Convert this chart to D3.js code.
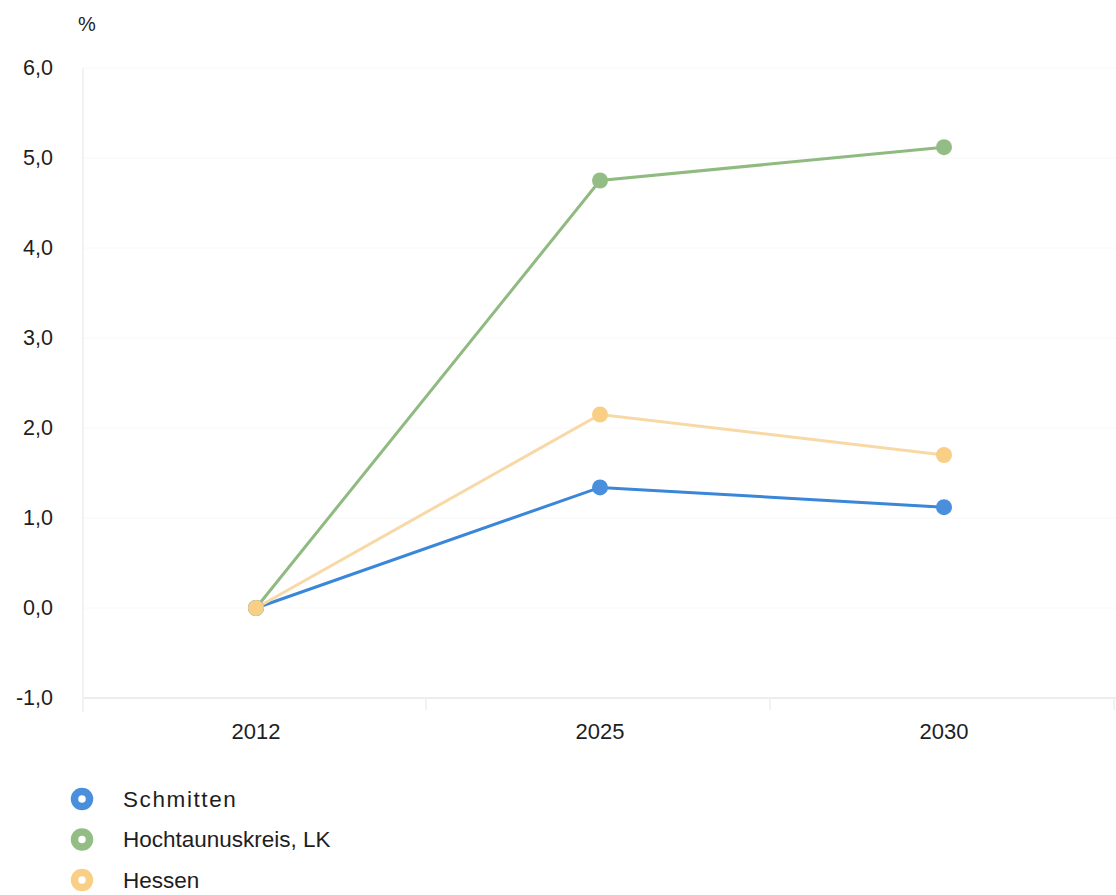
<!DOCTYPE html>
<html>
<head>
<meta charset="utf-8">
<script src="https://cdn.jsdelivr.net/npm/d3@7"></script>
<style>
  html, body { margin: 0; padding: 0; background: #fff; }
  svg { display: block; font-family: "Liberation Sans", Arial, sans-serif; }
</style>
</head>
<body>
<svg id="chart" width="1116" height="895"></svg>
<script>
// Population change relative to 2012, in percent
const years = ["2012", "2025", "2030"];
const schmitten = [0.0, 1.34, 1.12];
const hochtaunus = [0.0, 4.75, 5.12];
const hessen = [0.0, 2.15, 1.70];
const seriesNames = ["Schmitten", "Hochtaunuskreis, LK", "Hessen"];
const yTicks = [-1, 0, 1, 2, 3, 4, 5, 6];

const series = [
  { name: seriesNames[0], values: schmitten, line: "#3a86d8", dot: "#4a8fdc" },
  { name: seriesNames[1], values: hochtaunus, line: "#8fba80", dot: "#93bd85" },
  { name: seriesNames[2], values: hessen, line: "#f8d8a6", dot: "#f9cf86" }
];

const svg = d3.select("#chart");
const plotLeft = 84, plotRight = 1116, plotTop = 68, plotBottom = 698;
const font = "Liberation Sans, Arial, sans-serif";

const x = d3.scaleBand().domain(years).range([plotLeft, plotRight]);
const y = d3.scaleLinear().domain([-1, 6]).range([plotBottom, plotTop]);
const fmt = v => d3.format(".1f")(v).replace(".", ",").replace("\u2212", "-");

// faint horizontal grid
svg.append("g")
  .selectAll("line")
  .data(yTicks)
  .join("line")
  .attr("x1", plotLeft).attr("x2", plotRight)
  .attr("y1", d => y(d)).attr("y2", d => y(d))
  .attr("stroke", d => d === -1 ? "#ececec" : "#f8f8f8")
  .attr("stroke-width", d => d === -1 ? 2 : 1);

// vertical axis line
svg.append("line")
  .attr("x1", plotLeft - 1).attr("x2", plotLeft - 1)
  .attr("y1", plotTop).attr("y2", plotBottom + 14)
  .attr("stroke", "#f2f2f2").attr("stroke-width", 2);

// y axis labels
const yAxis = d3.axisLeft(y).tickValues(yTicks).tickFormat(fmt).tickSize(0).tickPadding(0);
const gy = svg.append("g").attr("transform", `translate(${plotLeft - 31},0)`).call(yAxis);
gy.select(".domain").remove();
gy.selectAll("text")
  .attr("font-size", 21.5)
  .attr("fill", "#1e1e1e")
  .attr("font-family", font);

svg.append("text")
  .attr("x", 78).attr("y", 31)
  .attr("font-size", 20).attr("fill", "#1e1e1e")
  .attr("font-family", font)
  .text("%");

// x axis labels and category ticks
const xAxis = d3.axisBottom(x).tickSize(0).tickPadding(0);
const gx = svg.append("g").attr("transform", `translate(0,${plotBottom + 25})`).call(xAxis);
gx.select(".domain").remove();
gx.selectAll("text")
  .attr("font-size", 22)
  .attr("fill", "#1e1e1e")
  .attr("dy", "0.71em")
  .attr("font-family", font);

svg.append("g")
  .selectAll("line")
  .data(years)
  .join("line")
  .attr("x1", (d, i) => plotLeft + x.step() * (i + 1) - 2)
  .attr("x2", (d, i) => plotLeft + x.step() * (i + 1) - 2)
  .attr("y1", plotBottom).attr("y2", plotBottom + 12)
  .attr("stroke", "#f2f2f2").attr("stroke-width", 2);

// lines and markers, drawn so the series at 2012 overlap like the original
const line = d3.line()
  .x((d, i) => x(years[i]) + x.bandwidth() / 2)
  .y(d => y(d));

const drawOrder = [series[1], series[0], series[2]];
drawOrder.forEach(s => {
  svg.append("path")
    .datum(s.values)
    .attr("fill", "none")
    .attr("stroke", s.line)
    .attr("stroke-width", 3)
    .attr("d", line);
});
drawOrder.forEach(s => {
  svg.append("g")
    .selectAll("circle")
    .data(s.values)
    .join("circle")
    .attr("cx", (d, i) => x(years[i]) + x.bandwidth() / 2)
    .attr("cy", d => y(d))
    .attr("r", 8)
    .attr("fill", s.dot);
});

// legend
const legend = svg.append("g");
series.forEach((s, i) => {
  const ly = 799 + i * 40.5;
  legend.append("circle")
    .attr("cx", 82).attr("cy", ly).attr("r", 7.5)
    .attr("fill", "none").attr("stroke", s.dot).attr("stroke-width", 7.5);
  legend.append("text")
    .attr("x", 123).attr("y", ly)
    .attr("dy", "0.35em")
    .attr("font-size", 22.5).attr("fill", "#1e1e1e")
    .attr("font-family", font)
    .attr("letter-spacing", i === 0 ? 1.6 : 0)
    .text(s.name);
});
</script>
</body>
</html>
